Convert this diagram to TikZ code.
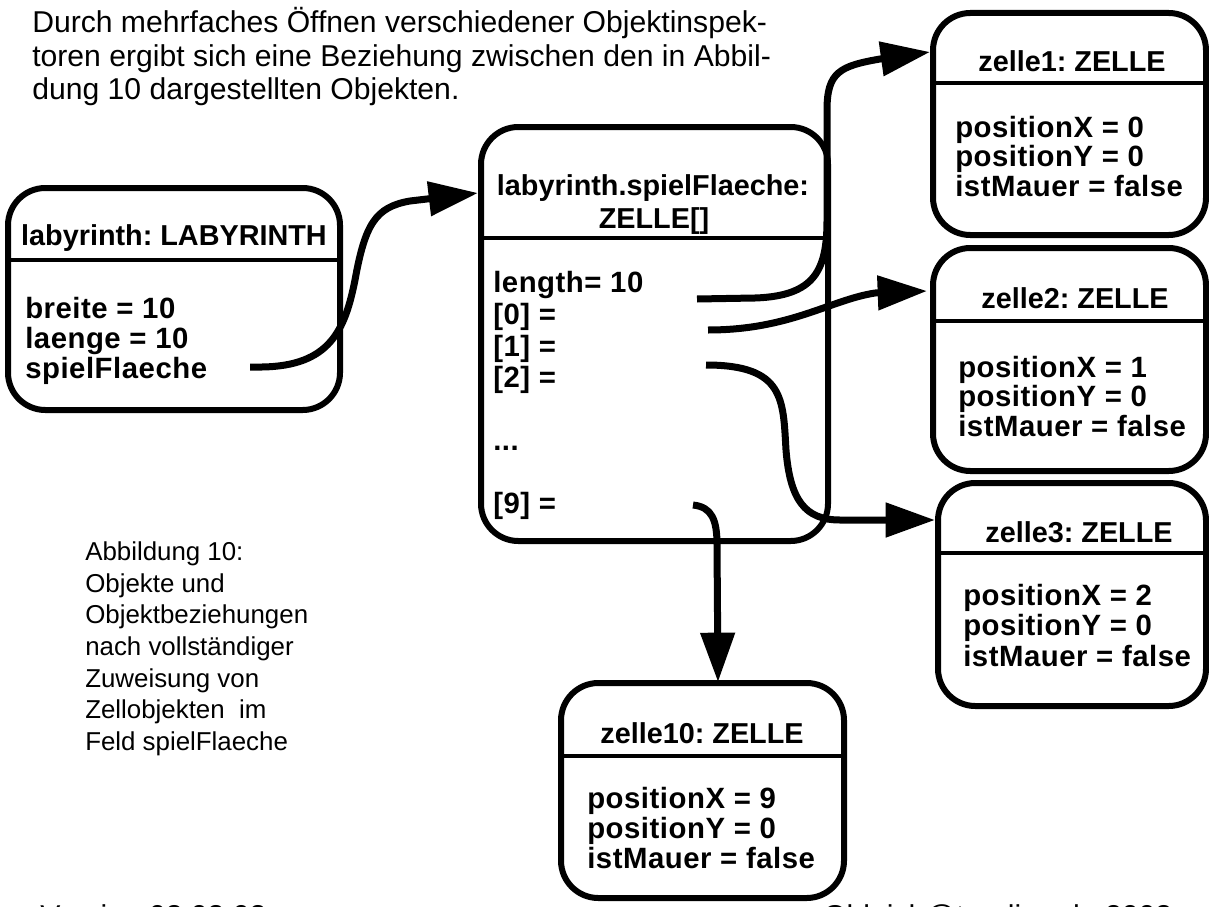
\documentclass[tikz,border=0pt]{standalone}
\usepackage{fontspec}
\setmainfont{Liberation Sans}
\usetikzlibrary{arrows.meta,fit}
\frenchspacing
\begin{document}
\begin{tikzpicture}[x=0.75pt,y=-0.75pt,
  objbox/.style={draw, line width=4.5pt, rounded corners=28pt, inner sep=0pt},
  sepline/.style={line width=3pt},
  hdtext/.style={font=\bfseries\fontsize{21.6}{25}\selectfont, anchor=base, inner sep=0pt},
  attr/.style={font=\bfseries\fontsize{22}{25}\selectfont\addfontfeature{LetterSpace=1.8}, anchor=base west, inner sep=0pt},
  bodytxt/.style={font=\fontsize{22.6}{25}\selectfont, anchor=base west, inner sep=0pt},
  captxt/.style={font=\fontsize{19.4}{23}\selectfont, anchor=base west, inner sep=0pt},
  linkarrow/.style={line width=5.25pt, -{Triangle[length=37pt,width=25pt]}},
]
\useasboundingbox (0,0) rectangle (1209,906);

% intro text
\node[bodytxt] (t1) at (32,33) {Durch mehrfaches Öffnen verschiedener Objektinspek-};
\node[bodytxt] (t2) at (32,66) {toren ergibt sich eine Beziehung zwischen den in Abbil-};
\node[bodytxt] (t3) at (32,99) {dung 10 dargestellten Objekten.};

% caption
\node[captxt] (c1) at (85,560) {Abbildung 10:};
\node[captxt] (c2) at (85,592) {Objekte und};
\node[captxt] (c3) at (85,623) {Objektbeziehungen};
\node[captxt] (c4) at (85,655) {nach vollständiger};
\node[captxt] (c5) at (85,687) {Zuweisung von};
\node[captxt] (c6) at (85,718) {Zellobjekten\ \ im};
\node[captxt] (c7) at (85,750) {Feld spielFlaeche};

% footer (cut off at the lower edge)
\node[bodytxt] (f1) at (40,926) {Version 08.03.03};
\node[bodytxt] (f2) at (823,926) {Obleich@t-online.de 2003};

% labyrinth box
\node[objbox, fit={(8,188) (340,410)}] (lab) {};
\draw[sepline] (lab.west |- 0,260) -- (lab.east |- 0,260);
\node[hdtext] (labh) at (174,245) {labyrinth: LABYRINTH};
\node[attr] (la1) at (25,318) {breite = 10};
\node[attr] (la2) at (25,348) {laenge = 10};
\node[attr] (la3) at (25,378) {spielFlaeche};

% spielFlaeche box
\node[objbox, fit={(481,127) (828,541)}] (arr) {};
\draw[sepline] (arr.west |- 0,238) -- (arr.east |- 0,238);
\node[hdtext] (arrh1) at (653,195) {labyrinth.spielFlaeche:};
\node[hdtext] (arrh2) at (654,228) {ZELLE[]};
\node[attr] (ar0) at (493,292) {length= 10};
\node[attr] (ar1) at (493,324) {[0] =};
\node[attr] (ar2) at (493,356) {[1] =};
\node[attr] (ar3) at (493,387) {[2] =};
\node[attr] (ar4) at (493,450) {...};
\node[attr] (ar5) at (493,513) {[9] =};

% zelle1
\node[objbox, fit={(933,13) (1206,235)}] (z1) {};
\draw[sepline] (z1.west |- 0,83) -- (z1.east |- 0,83);
\node[hdtext] (z1h) at (1072,72) {zelle1: ZELLE};
\node[attr] (z1a) at (955,137) {positionX = 0};
\node[attr] (z1b) at (955,166) {positionY = 0};
\node[attr] (z1c) at (955,196) {istMauer = false};

% zelle2
\node[objbox, fit={(933,248) (1206,471)}] (z2) {};
\draw[sepline] (z2.west |- 0,321) -- (z2.east |- 0,321);
\node[hdtext] (z2h) at (1075,308) {zelle2: ZELLE};
\node[attr] (z2a) at (958,377) {positionX = 1};
\node[attr] (z2b) at (958,406) {positionY = 0};
\node[attr] (z2c) at (958,436) {istMauer = false};

% zelle3
\node[objbox, fit={(938,483) (1206,706)}] (z3) {};
\draw[sepline] (z3.west |- 0,553) -- (z3.east |- 0,553);
\node[hdtext] (z3h) at (1079,542) {zelle3: ZELLE};
\node[attr] (z3a) at (963,605) {positionX = 2};
\node[attr] (z3b) at (963,635) {positionY = 0};
\node[attr] (z3c) at (963,666) {istMauer = false};

% zelle10
\node[objbox, fit={(561,683) (844,898)}] (z10) {};
\draw[sepline] (z10.west |- 0,756) -- (z10.east |- 0,756);
\node[hdtext] (z10h) at (702,743) {zelle10: ZELLE};
\node[attr] (z10a) at (587,808) {positionX = 9};
\node[attr] (z10b) at (587,838) {positionY = 0};
\node[attr] (z10c) at (587,868) {istMauer = false};

% connector end points
\coordinate (s1) at (250,367);
\coordinate (e1) at (arr.west |- 0,193);
\coordinate (s2) at (697,299);
\coordinate (e2) at (z1.west |- 0,52);
\coordinate (s3) at (708,330);
\coordinate (e3) at (927,291);
\coordinate (s4) at (706,365);
\coordinate (e4) at (z3.west |- 0,520);
\coordinate (s5) at (693,505);
\coordinate (e5) at (718,682);

\draw[linkarrow] (s1) -- (262,367) .. controls (330,366) and (345,330) .. (355,280)
  .. controls (365,225) and (375,207) .. (410,201) -- (e1);
\draw[linkarrow] (s2) -- (755,298) .. controls (815,296) and (827,270) .. (827,220)
  -- (827,110) .. controls (827,72) and (840,66) .. (880,59) -- (e2);
\draw[linkarrow] (s3) .. controls (790,330) and (830,300) .. (875,293) -- (e3);
\draw[linkarrow] (s4) .. controls (785,365) and (783,400) .. (786,450)
  .. controls (790,500) and (805,520) .. (840,520) -- (e4);
\draw[linkarrow] (s5) .. controls (712,507) and (717,520) .. (717,545) -- (e5);
\end{tikzpicture}
\end{document}
